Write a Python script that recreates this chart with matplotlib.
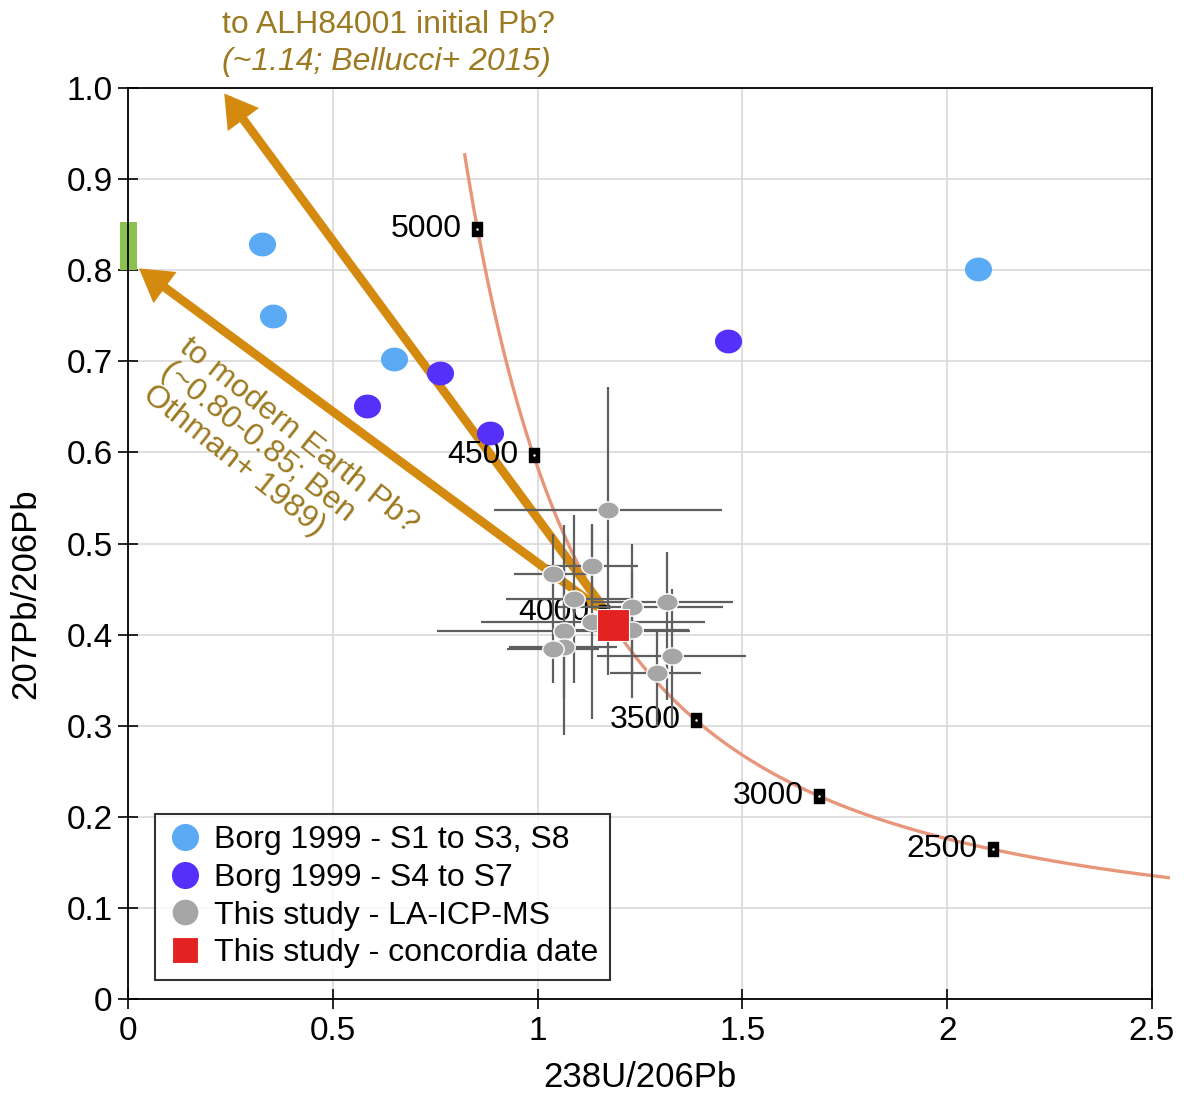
import numpy as np
import matplotlib
matplotlib.use("Agg")
import matplotlib.pyplot as plt
from matplotlib.patches import Rectangle
from matplotlib.path import Path

plt.rcParams['font.family'] = ['Liberation Sans', 'DejaVu Sans']

# ---------------- data ----------------
borg_a_x = [0.327, 0.355, 0.650, 2.075]
borg_a_y = [0.829, 0.750, 0.7025, 0.801]
borg_b_x = [0.583, 0.762, 0.884, 1.465]
borg_b_y = [0.651, 0.687, 0.621, 0.722]

la_x = [1.173, 1.038, 1.132, 1.090, 1.134, 1.230, 1.317, 1.230, 1.065, 1.065, 1.038, 1.327, 1.291]
la_y = [0.537, 0.467, 0.475, 0.439, 0.4135, 0.430, 0.4355, 0.405, 0.404, 0.386, 0.384, 0.377, 0.3575]
la_xlo = [0.894, 0.943, 1.022, 0.923, 0.863, 1.050, 1.130, 1.090, 0.755, 0.930, 0.925, 1.144, 1.177]
la_xhi = [1.451, 1.130, 1.246, 1.233, 1.409, 1.453, 1.478, 1.370, 1.372, 1.193, 1.150, 1.510, 1.400]
la_ylo = [0.356, 0.420, 0.430, 0.347, 0.307, 0.350, 0.328, 0.330, 0.330, 0.290, 0.347, 0.300, 0.300]
la_yhi = [0.672, 0.510, 0.520, 0.531, 0.521, 0.500, 0.491, 0.470, 0.520, 0.480, 0.424, 0.450, 0.405]

conc_date_x = [1.185]
conc_date_y = [0.4105]

# concordia (Tera-Wasserburg), ages in Ma
lam238 = 1.55125e-10
lam235 = 9.8485e-10
u_ratio = 137.88
curve_ages = np.linspace(2140, 5130, 400)
marker_ages = [2500, 3000, 3500, 4000, 4500, 5000]

x_ticks = [0, 0.5, 1, 1.5, 2, 2.5]
y_ticks = [0, 0.1, 0.2, 0.3, 0.4, 0.5, 0.6, 0.7, 0.8, 0.9, 1.0]

# arrow (tail, tip) in data units
arrow_alh_tail = (1.156, 0.4325)
arrow_alh_tip = (0.235, 0.994)
arrow_earth_tail = (1.144, 0.431)
arrow_earth_tip = (0.027, 0.802)

earth_pb_box = (-0.02, 0.800, 0.042, 0.053)  # x, y, w, h

# ---------------- styles ----------------
c_light = '#5aaaf5'
c_purple = '#5530fa'
c_grey = '#a6a6a6'
c_red = '#e32222'
c_gold = '#d4890f'
c_gold_txt = '#9c7a22'
c_conc = '#e8967a'


def concordia(t_ma):
    t = np.asarray(t_ma) * 1e6
    e8 = np.exp(lam238 * t) - 1
    e5 = np.exp(lam235 * t) - 1
    return 1.0 / e8, e5 / e8 / u_ratio


def ellipse_marker(ratio):
    th = np.linspace(0, 2 * np.pi, 60)
    verts = np.column_stack([np.cos(th), ratio * np.sin(th)])
    return Path(verts, closed=True)


ell_big = ellipse_marker(0.88)
ell_small = ellipse_marker(0.80)
rect_marker = Path([(-0.35, -0.5), (0.35, -0.5), (0.35, 0.5), (-0.35, 0.5), (-0.35, -0.5)], closed=True)

fig = plt.figure(figsize=(11.86, 10.95), dpi=100)
ax = fig.add_axes([0.1079, 0.0877, 0.8634, 0.8319])
ax.set_xlim(0, 2.5)
ax.set_ylim(0, 1.0)

ax.grid(True, color='#d9d9d9', lw=1.2, zorder=0)
ax.set_axisbelow(True)

# green rectangle (modern Earth Pb)
ax.add_patch(Rectangle(earth_pb_box[:2], earth_pb_box[2], earth_pb_box[3],
                       facecolor='#8cc152', edgecolor='none', clip_on=False, zorder=1))

# concordia curve
cx, cy = concordia(curve_ages)
ax.plot(cx, cy, color=c_conc, lw=2.4, zorder=2, clip_on=False)

# arrows
for tail, tip in [(arrow_alh_tail, arrow_alh_tip), (arrow_earth_tail, arrow_earth_tip)]:
    ax.annotate('', xy=tip, xytext=tail, xycoords='data', annotation_clip=False,
                arrowprops=dict(arrowstyle='-|>,head_length=0.7,head_width=0.42',
                                mutation_scale=20, color=c_gold, lw=6.3,
                                shrinkA=0, shrinkB=0, joinstyle='miter'), zorder=3)

# age markers & labels
mx, my = concordia(marker_ages)
ax.plot(mx, my, linestyle='none', marker=rect_marker, markersize=9.5,
        color='black', zorder=4)
ax.plot(mx, my, linestyle='none', marker='.', markersize=1.5,
        color='white', zorder=4)
for a, xx, yy in zip(marker_ages, mx, my):
    ax.annotate(str(a), xy=(xx, yy), xytext=(-11, 0), textcoords='offset points',
                ha='right', va='center', fontsize=23, color='black', zorder=4)

# error bars
la_x_a = np.array(la_x); la_y_a = np.array(la_y)
xerr = [la_x_a - np.array(la_xlo), np.array(la_xhi) - la_x_a]
yerr = [la_y_a - np.array(la_ylo), np.array(la_yhi) - la_y_a]
ax.errorbar(la_x_a, la_y_a, xerr=xerr, yerr=yerr, fmt='none', ecolor='#5f5f5f',
            elinewidth=1.6, capsize=0, zorder=5)

# points
ax.plot(borg_a_x, borg_a_y, linestyle='none', marker=ell_big, markersize=19.5,
        color=c_light, markeredgecolor='none', zorder=6, label='Borg 1999 - S1 to S3, S8')
ax.plot(borg_b_x, borg_b_y, linestyle='none', marker=ell_big, markersize=19.5,
        color=c_purple, markeredgecolor='none', zorder=6, label='Borg 1999 - S4 to S7')
ax.plot(la_x, la_y, linestyle='none', marker=ell_small, markersize=15.5,
        markerfacecolor=c_grey, markeredgecolor='white', markeredgewidth=1.0,
        zorder=7, label='This study - LA-ICP-MS')
ax.plot(conc_date_x, conc_date_y, linestyle='none', marker='s', markersize=23.5,
        markerfacecolor=c_red, markeredgecolor='white', markeredgewidth=0.8,
        zorder=8, label='This study - concordia date')

# axes styling
for s in ax.spines.values():
    s.set_color('black')
    s.set_linewidth(1.3)
ax.set_xticks(x_ticks)
ax.set_yticks(y_ticks)
ax.set_xticklabels(['{:g}'.format(v) for v in x_ticks])
ax.set_yticklabels(['0' if v == 0 else '{:.1f}'.format(v) for v in y_ticks])
ax.tick_params(axis='both', direction='inout', length=14, width=1.2,
               labelsize=24, colors='black')
ax.tick_params(axis='x', pad=5)
ax.tick_params(axis='y', pad=4)
ax.set_xlabel('238U/206Pb', fontsize=25)
ax.set_ylabel('207Pb/206Pb', fontsize=25)
ax.xaxis.set_label_coords(0.5, -0.068)
ax.yaxis.set_label_coords(-0.100, 0.445)
ax.xaxis.label.set_va('top')
ax.yaxis.label.set_va('center')

# legend
leg = ax.legend(loc='lower left', bbox_to_anchor=(0.026, 0.021), borderaxespad=0,
                fontsize=23, frameon=True, fancybox=False, edgecolor='black',
                handlelength=1.2, handletextpad=0.3, labelspacing=0.24,
                borderpad=0.36)
leg.get_frame().set_linewidth(1.5)
leg.set_zorder(10)
for h in leg.legend_handles:
    h.set_marker('o')
    h.set_markersize(19.5)
leg.legend_handles[3].set_marker('s')
leg.legend_handles[3].set_markersize(19)

# annotations
fig.text(222 / 1186, 1 - 25 / 1095, 'to ALH84001 initial Pb?', fontsize=23,
         color=c_gold_txt, ha='left', va='center')
fig.text(222 / 1186, 1 - 62 / 1095, '(~1.14; Bellucci+ 2015)', fontsize=23,
         color=c_gold_txt, ha='left', va='center', style='italic')
ax.text(0.372, 0.592, 'to modern Earth Pb?\n(~0.80-0.85; Ben\nOthman+ 1989)',
        fontsize=23, color=c_gold_txt, rotation=-38.5, rotation_mode='anchor',
        ha='center', va='center', multialignment='left', linespacing=1.0, zorder=4)

fig.savefig('out.png', dpi=100)
